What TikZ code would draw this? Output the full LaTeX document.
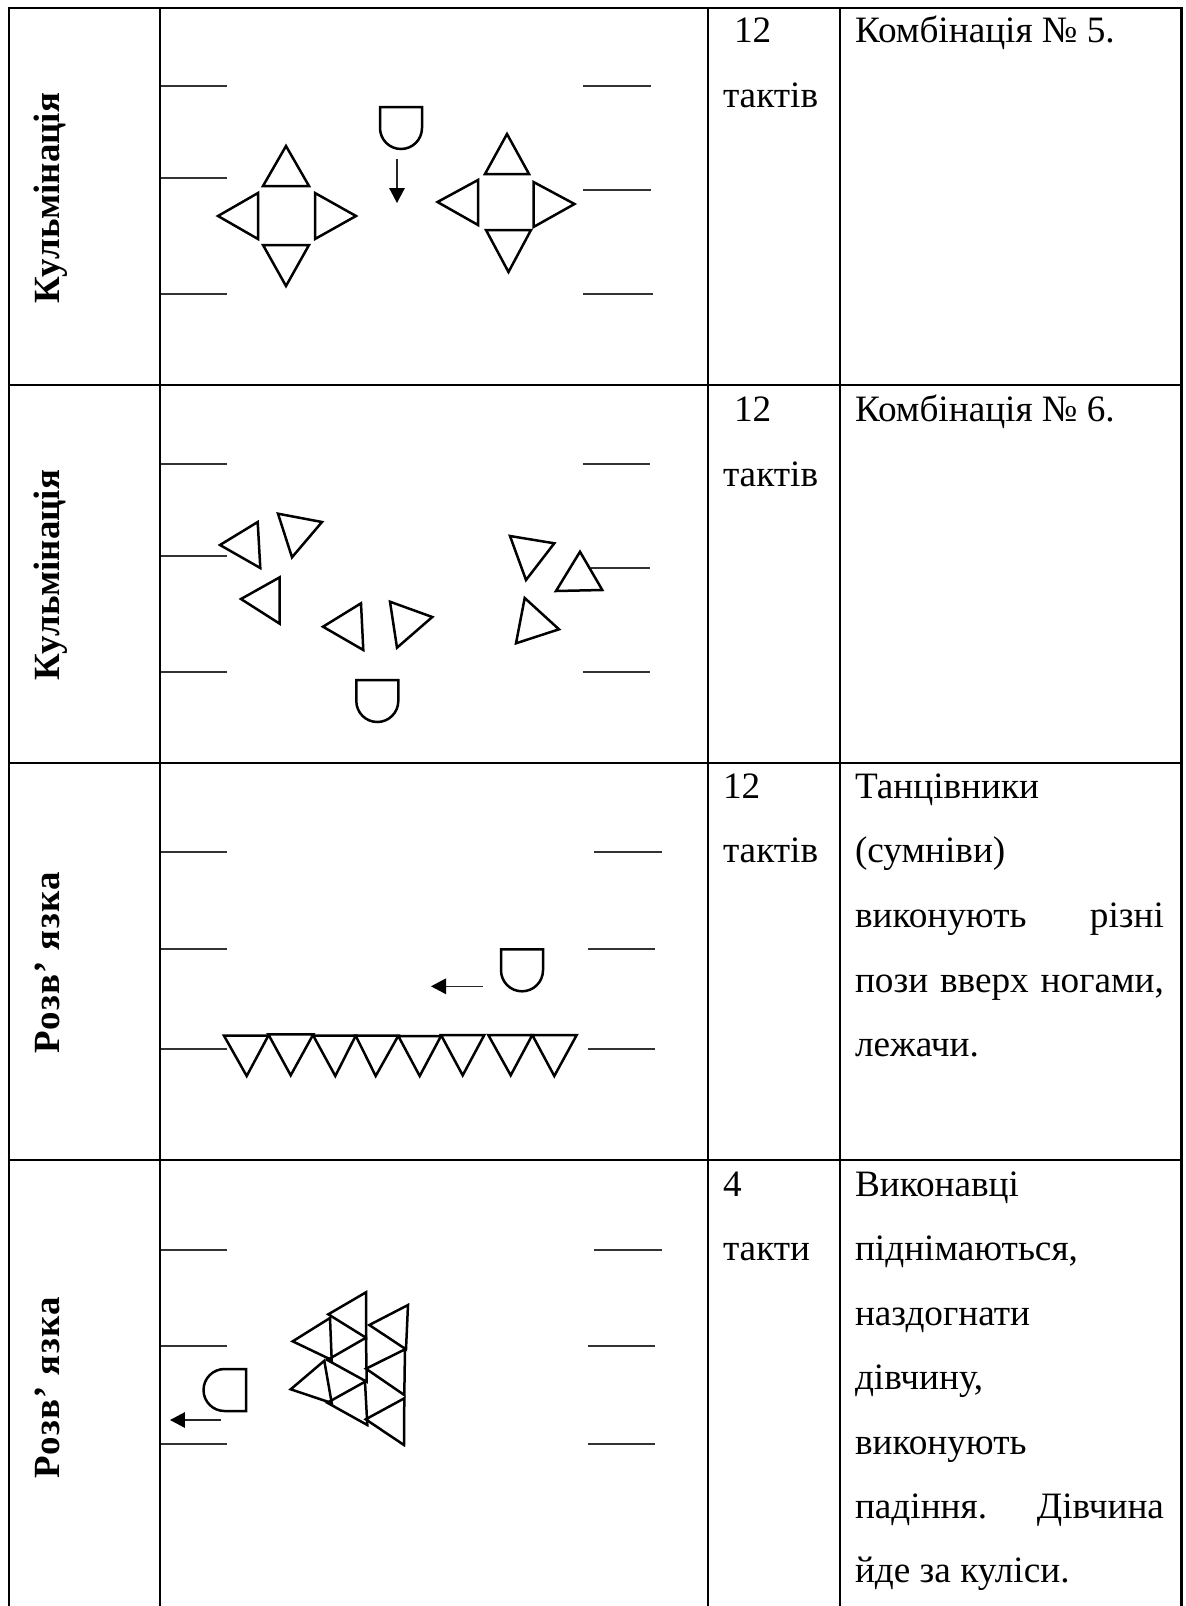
\documentclass[tikz,border=0pt]{standalone}
\usepackage{fontspec}
\setmainfont{Liberation Serif}
\usetikzlibrary{arrows.meta}
\tikzset{
  grid/.style={line width=0.056cm,black},
  wing/.style={line width=0.032cm,black!80},
  dancer/.style={line width=0.05cm,black,line join=miter},
  move/.style={line width=0.03cm,black!85,-{Triangle[length=0.3cm,width=0.31cm,fill=black,color=black]}},
  txt/.style={inner sep=0pt,outer sep=0pt,anchor=base west,font=\fontsize{21.2pt}{24pt}\selectfont},
  stage/.style={inner sep=0pt,outer sep=0pt,anchor=base west,rotate=90,font=\fontsize{21pt}{24pt}\selectfont\bfseries},
  stagew/.style={stage,font=\fontsize{21pt}{24pt}\selectfont\bfseries\addfontfeature{LetterSpace=3.5}}
}
\newcommand{\tri}[3]{\draw[dancer] (#1) -- (#2) -- (#3) -- cycle;}
\newcommand{\lead}[2]{\draw[dancer] (#1,#2) -- (#1+42,#2) -- (#1+42,#2+21) arc[start angle=0,end angle=-180,radius=0.42cm] -- cycle;}
\newcommand{\just}[1]{\makebox[6.18cm][s]{#1}}
\begin{document}
\begin{tikzpicture}[x=0.02cm,y=-0.02cm]
\useasboundingbox (0,0) rectangle (1186,1606);
\fill[white] (0,0) rectangle (1186,1606);
% table
\foreach \xx in {9,160,708,840,1181.5} \draw[grid] (\xx,7) -- (\xx,1606);
\foreach \yy in {8,385,763,1160} \draw[grid] (7.6,\yy) -- (1182.9,\yy);
% wings
\foreach \ya/\yb/\xa/\xb in {86/86/583/651,178/190/583/651,294/294/583/653,
  464/464/583/650,556/568/591/650,672/672/583/650,
  852/852/594/662,949/949/588/655,1049/1049/588/655,
  1250/1250/594/662,1346/1346/588/655,1444/1444/588/655}{
  \draw[wing] (161,\ya) -- (227,\ya);
  \draw[wing] (\xa,\yb) -- (\xb,\yb);
}
% row 1
\tri{286,146}{263,186}{309,186}
\tri{218,216}{258,193}{258,239}
\tri{356,216}{315,193}{315,239}
\tri{286,286}{263,245}{309,245}
\tri{507,134}{485,174}{529,174}
\tri{437.5,202}{478,180}{478,225}
\tri{574.5,204}{533.5,182}{533.5,227}
\tri{508.5,272}{486,230}{531,230}
\lead{380}{107}
\coordinate (a1s) at (397,159); \coordinate (a1e) at (397,203);
\draw[move] (a1s) -- (a1e);
% row 2
\tri{220,545}{257.7,522}{260.3,568}
\tri{278,513.7}{322,522}{292,557.3}
\tri{241,599}{279.7,577.3}{279.7,623.7}
\tri{323,626.7}{361,603.3}{363.3,650}
\tri{390,601.7}{432.3,617}{397,647.7}
\tri{510,536}{554.3,543.3}{526,580}
\tri{580,551.7}{556,591}{602.3,590}
\tri{524.7,598}{559,629.3}{516,643.3}
\lead{356.3}{680}
% row 3
\tri{224,1035.7}{268.3,1035.7}{246.7,1076}
\tri{268.3,1034.3}{313.3,1034.3}{290.7,1075.3}
\tri{313.3,1035.7}{355.7,1035.7}{335.3,1076}
\tri{355.7,1035.7}{398.3,1035.7}{375.7,1076}
\tri{398.3,1036}{441,1036}{419.7,1076}
\tri{441,1035}{484.3,1035}{462.7,1075.3}
\tri{488.3,1035}{532.3,1035}{510.7,1075.3}
\tri{532.3,1035}{576.7,1035}{554.3,1076}
\lead{501}{949.3}
\coordinate (a3s) at (482.7,986.3); \coordinate (a3e) at (431,986.3);
\draw[move] (a3s) -- (a3e);
% row 4
\tri{366,1292.3}{328.3,1314.3}{366,1337.7}
\tri{408,1305}{369.3,1325}{406,1349.3}
\tri{330,1318}{292.7,1341.3}{331.7,1360}
\tri{366,1337.7}{327.3,1360}{366.7,1381.7}
\tri{405,1349.3}{366,1368.7}{404.3,1395}
\tri{324.3,1360.7}{290.7,1389.3}{331.7,1403}
\tri{365,1381.7}{327.3,1402.7}{367.3,1425}
\tri{404.3,1398.3}{365.7,1419.3}{404,1445}
\draw[dancer] (246,1369) -- (246,1411) -- (224.5,1411) arc[start angle=270,end angle=90,radius=0.42cm] -- cycle;
\coordinate (a4s) at (221,1420); \coordinate (a4e) at (170,1420);
\draw[move] (a4s) -- (a4e);
% stage labels
\node[stage] (s1) at (59.5,303) {Кульмінація};
\node[stage] (s2) at (59.5,680) {Кульмінація};
\node[stagew] (s3) at (59.5,1053) {Розв’ язка};
\node[stagew] (s4) at (59.5,1478) {Розв’ язка};
% bars
\node[txt] (b1a) at (734,42) {12};
\node[txt] (b1b) at (723,107) {тактів};
\node[txt] (b2a) at (734,421) {12};
\node[txt] (b2b) at (723,486) {тактів};
\node[txt] (b3a) at (723,798) {12};
\node[txt] (b3b) at (723,862) {тактів};
\node[txt] (b4a) at (723,1196) {4};
\node[txt] (b4b) at (723,1260) {такти};
% descriptions
\node[txt] (d1) at (855,42) {Комбінація № 5.};
\node[txt] (d2) at (855,421) {Комбінація № 6.};
\node[txt] (d3a) at (855,798) {Танцівники};
\node[txt] (d3b) at (855,862) {(сумніви)};
\node[txt] (d3c) at (855,927) {\just{виконують різні}};
\node[txt] (d3e) at (855,992) {\just{пози вверх ногами,}};
\node[txt] (d3f) at (855,1056) {лежачи.};
\node[txt] (d4a) at (855,1196) {Виконавці};
\node[txt] (d4b) at (855,1260) {піднімаються,};
\node[txt] (d4c) at (855,1325) {наздогнати};
\node[txt] (d4d) at (855,1389) {дівчину,};
\node[txt] (d4e) at (855,1454) {виконують};
\node[txt] (d4f) at (855,1518) {\just{падіння. Дівчина}};
\node[txt] (d4h) at (855,1582) {йде за куліси.};
\end{tikzpicture}
\end{document}
